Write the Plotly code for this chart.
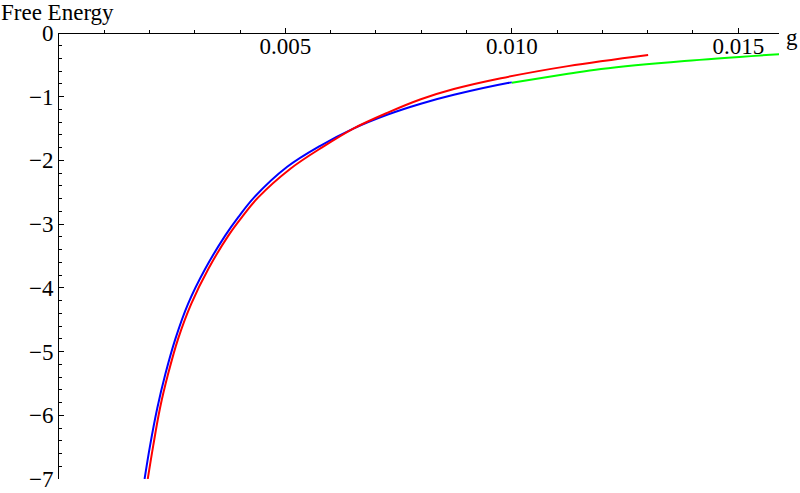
import plotly.graph_objects as go

# blue curve
blue_g = [0.00189, 0.00201, 0.00217, 0.00235, 0.00257, 0.00285, 0.00323, 0.00367,
          0.00396, 0.00431, 0.00504, 0.00577, 0.00650, 0.00726, 0.00799, 0.00872,
          0.00991, 0.01000]
blue_f = [-7.00, -6.48, -5.89, -5.35, -4.80, -4.25, -3.70, -3.18,
          -2.89, -2.58, -2.10, -1.77, -1.50, -1.28, -1.11, -0.97,
          -0.785, -0.775]

# red curve
red_g = [0.00196, 0.00208, 0.00223, 0.00241, 0.00263, 0.00292, 0.00330, 0.00374,
         0.00404, 0.00440, 0.00511, 0.00582, 0.00650, 0.00726, 0.00799, 0.00872,
         0.00976, 0.01124, 0.01301]
red_f = [-7.00, -6.48, -5.89, -5.35, -4.80, -4.25, -3.70, -3.18,
         -2.89, -2.58, -2.13, -1.79, -1.50, -1.25, -1.04, -0.88,
         -0.71, -0.52, -0.345]

# green curve
green_g = [0.01000, 0.01124, 0.01197, 0.01381, 0.01595]
green_f = [-0.78, -0.64, -0.565, -0.44, -0.33]

FONT = 'Liberation Serif'

fig = go.Figure()
for g, f, c in [(blue_g, blue_f, '#0000ff'), (red_g, red_f, '#ff0000'), (green_g, green_f, '#00ff00')]:
    fig.add_trace(go.Scatter(x=g, y=f, mode='lines',
                             line=dict(color=c, width=2, shape='spline', smoothing=1.0),
                             showlegend=False, hoverinfo='skip'))

fig.update_layout(
    width=800, height=493,
    paper_bgcolor='white', plot_bgcolor='white',
    margin=dict(l=59, r=21, t=33, b=14),
    font=dict(family=FONT, size=23, color='black'),
    xaxis=dict(range=[0, 0.0159], anchor='free', position=1, side='bottom',
               showline=True, linecolor='black', linewidth=1, automargin=False,
               showgrid=False, zeroline=False,
               tickvals=[0.005, 0.010, 0.015], ticktext=['0.005', '0.010', '0.015'],
               ticks='inside', ticklen=5, tickcolor='black', ticklabelstandoff=-8,
               minor=dict(dtick=0.001, tick0=0, ticks='inside', ticklen=3, tickcolor='black')),
    yaxis=dict(range=[-7, 0], showline=True, linecolor='black', linewidth=1, automargin=False,
               showgrid=False, zeroline=False,
               tickvals=[0, -1, -2, -3, -4, -5, -6, -7],
               ticks='inside', ticklen=5, tickcolor='black', ticklabelstandoff=0,
               minor=dict(dtick=0.2, ticks='inside', ticklen=3, tickcolor='black')),
    annotations=[
        dict(text='Free Energy', x=0, y=1, xref='paper', yref='paper', xshift=-60, yshift=35,
             xanchor='left', yanchor='top', showarrow=False, font=dict(family=FONT, size=23)),
        dict(text='g', x=1, y=1, xref='paper', yref='paper', xshift=5, yshift=-4,
             xanchor='left', yanchor='middle', showarrow=False, font=dict(family=FONT, size=23)),
    ],
)

fig.write_html("out.html", config={'displayModeBar': False},
               post_script="document.body.style.margin='0';")
